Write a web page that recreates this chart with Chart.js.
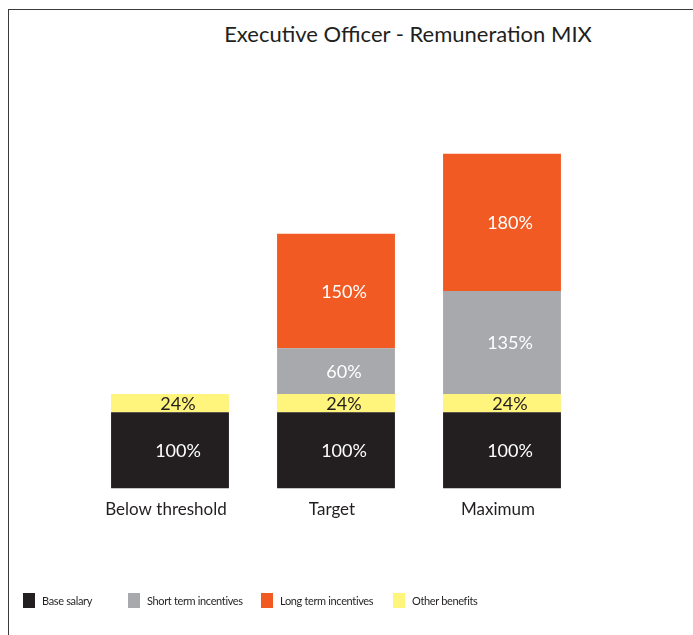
<!DOCTYPE html>
<html>
<head>
<meta charset="utf-8">
<script src="https://cdn.jsdelivr.net/npm/chart.js@4.4.1/dist/chart.umd.min.js"></script>
<style>
  html, body { margin: 0; padding: 0; background: #fff; }
  body { width: 693px; height: 635px; position: relative; overflow: hidden; font-family: Lato, "Open Sans", sans-serif; color: #231f20; }
  .frame { position: absolute; left: 8px; top: 9px; width: 700px; height: 640px; border-left: 1.5px solid #3a3a3a; border-top: 1.5px solid #3a3a3a; }
  .title { position: absolute; left: 0; top: 20px; width: 816px; text-align: center; font-size: 22px; }
  .chart-box { position: absolute; left: 0; top: 0; width: 693px; height: 635px; }
  .legend-item { position: absolute; top: 593px; font-size: 11px; letter-spacing: -0.35px; display: flex; align-items: center; }
  .legend-item .swatch { width: 12px; height: 15px; margin-right: 7px; }
</style>
</head>
<body>
<div class="frame"></div>
<div class="title">Executive Officer - Remuneration MIX</div>
<div class="chart-box"><canvas id="mixChart" width="693" height="635"></canvas></div>
<div id="legend"></div>
<script>
/* Chart data */
const categories = ['Below threshold', 'Target', 'Maximum'];
const baseSalary = [100, 100, 100];
const otherBenefits = [24, 24, 24];
const shortTerm = [null, 60, 135];
const longTerm = [null, 150, 180];

const seriesNames = ['Base salary', 'Short term incentives', 'Long term incentives', 'Other benefits'];
const seriesColors = ['#231f20', '#a7a9ac', '#f15a22', '#fff47c'];
const legendLeft = [23, 128, 261, 393];

/* Legend (HTML) */
const legend = document.getElementById('legend');
seriesNames.forEach((name, i) => {
  const item = document.createElement('div');
  item.className = 'legend-item';
  item.style.left = legendLeft[i] + 'px';
  item.innerHTML = '<span class="swatch" style="background:' + seriesColors[i] + '"></span><span>' + name + '</span>';
  legend.appendChild(item);
});

/* Segment labels drawn inside each bar */
const segmentLabels = {
  id: 'segmentLabels',
  afterDatasetsDraw(chart) {
    const ctx = chart.ctx;
    ctx.save();
    ctx.font = '18px Lato, "Open Sans", sans-serif';
    ctx.textAlign = 'center';
    ctx.textBaseline = 'middle';
    chart.data.datasets.forEach((ds, di) => {
      const meta = chart.getDatasetMeta(di);
      meta.data.forEach((bar, i) => {
        const v = ds.data[i];
        if (v == null) return;
        const mid = (bar.y + bar.base) / 2;
        ctx.fillStyle = ds.labelColor;
        ctx.fillText(v + '%', bar.x + 8, mid + 1);
      });
    });
    ctx.restore();
  },
};

const ctxMix = document.getElementById('mixChart').getContext('2d');
const mixChart = new Chart(ctxMix, {
  type: 'bar',
  data: {
    labels: categories,
    // stack order bottom -> top: base, other benefits, short term, long term
    datasets: [
      { label: seriesNames[0], data: baseSalary, backgroundColor: seriesColors[0], labelColor: '#ffffff' },
      { label: seriesNames[3], data: otherBenefits, backgroundColor: seriesColors[3], labelColor: '#231f20' },
      { label: seriesNames[1], data: shortTerm, backgroundColor: seriesColors[1], labelColor: '#ffffff' },
      { label: seriesNames[2], data: longTerm, backgroundColor: seriesColors[2], labelColor: '#ffffff' },
    ],
  },
  options: {
    responsive: false,
    animation: false,
    layout: { padding: { left: 87, right: 108, top: 153, bottom: 104 } },
    datasets: { bar: { categoryPercentage: 1, barPercentage: 0.71, borderWidth: 0 } },
    plugins: {
      legend: { display: false },
      tooltip: { enabled: false },
    },
    scales: {
      x: {
        stacked: true,
        grid: { display: false, drawTicks: false },
        border: { display: false },
        ticks: { color: '#231f20', padding: 11, labelOffset: -4, font: { family: 'Lato', size: 17 } },
      },
      y: {
        stacked: true,
        display: false,
        min: 0,
        max: 440,
      },
    },
  },
  plugins: [segmentLabels],
});
</script>
</body>
</html>
